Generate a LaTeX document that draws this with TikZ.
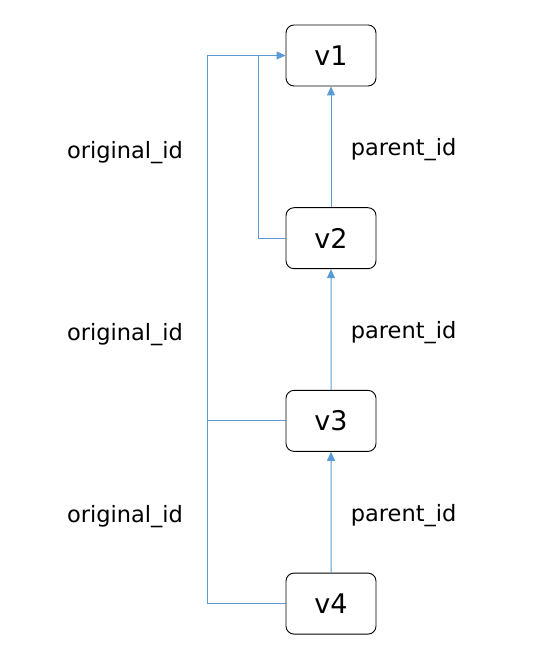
\documentclass[tikz,border=0pt]{standalone}
\usepackage{fontspec}
\setmainfont{DejaVu Sans}
\usetikzlibrary{arrows.meta,positioning}
\definecolor{linkblue}{HTML}{5B9BD5}
\tikzset{
  vbox/.style={draw=black,line width=0.9pt,rounded corners=8pt,minimum width=90pt,minimum height=61pt,font=\fontsize{27}{30}\selectfont},
  idline/.style={draw=linkblue,line width=1pt},
  tip/.style={-{Triangle[length=9pt,width=8pt]}},
  lbl/.style={font=\fontsize{22.5}{26}\selectfont,text=black}
}
\begin{document}
\begin{tikzpicture}[x=1pt,y=1pt]
\useasboundingbox (0,0) rectangle (539,671);

\tikzstyle{level 1}=[level distance=182.7pt]
\tikzstyle{level 2}=[level distance=182.7pt]
\tikzstyle{level 3}=[level distance=182.7pt]
\tikzstyle{edge from parent}=[idline,{Triangle[length=9pt,width=8pt]}-]

\node[vbox] (v1) at (331,615.5) {v1}
child {node[vbox] (v2) {v2}
  child {node[vbox] (v3) {v3}
    child {node[vbox] (v4) {v4}
      edge from parent node[lbl,right=16pt,yshift=-3pt] (p3) {parent\_id}}
    edge from parent node[lbl,right=16pt,yshift=-3pt] (p2) {parent\_id}}
  edge from parent node[lbl,right=16pt,yshift=-3pt] (p1) {parent\_id}};

% original_id links
\coordinate (j1) at ([xshift=-27pt]v1.west);
\coordinate (j2) at ([xshift=-78pt]v1.west);
\draw[idline] (v2.west) -| (j1);
\draw[idline,tip] (v4.west) -| (j2) -- (v1.west);
\draw[idline] (v3.west) -- (v3.west -| j2);

\node[lbl] (o1) at (125,518) {original\_id};
\node[lbl] (o2) at (125,336) {original\_id};
\node[lbl] (o3) at (125,154) {original\_id};
\end{tikzpicture}
\end{document}
